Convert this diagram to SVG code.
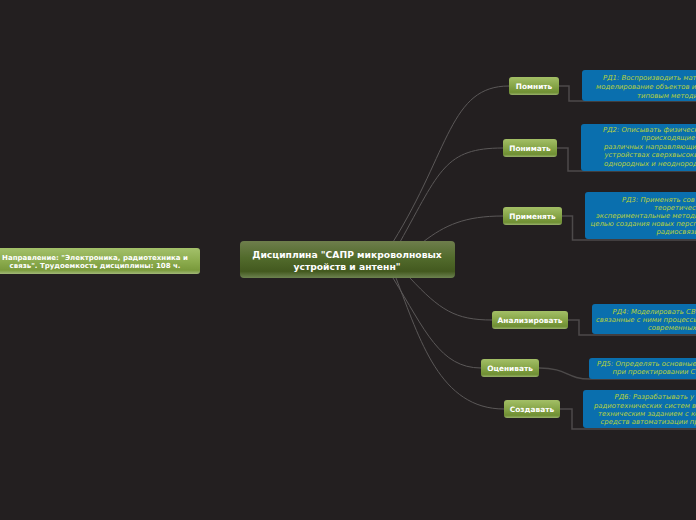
<svg xmlns="http://www.w3.org/2000/svg" width="696" height="520" viewBox="0 0 696 520">
<defs>
<linearGradient id="gCenter" x1="0" y1="0" x2="0" y2="1">
<stop offset="0" stop-color="#6e7e4c"/>
<stop offset="0.45" stop-color="#526b2c"/>
<stop offset="0.82" stop-color="#43591f"/>
<stop offset="1" stop-color="#6d8350"/>
</linearGradient>
<linearGradient id="gNode" x1="0" y1="0" x2="0" y2="1">
<stop offset="0" stop-color="#a3bf66"/>
<stop offset="0.5" stop-color="#86a548"/>
<stop offset="0.85" stop-color="#6f8f33"/>
<stop offset="1" stop-color="#98b06a"/>
</linearGradient>
<linearGradient id="gLeft" x1="0" y1="0" x2="0" y2="1">
<stop offset="0" stop-color="#a3c06a"/>
<stop offset="0.5" stop-color="#8cac4e"/>
<stop offset="0.85" stop-color="#7a9a3c"/>
<stop offset="1" stop-color="#a2b878"/>
</linearGradient>
</defs>
<style>
.bg{fill:#231f20}
.curve{fill:none;stroke:#5b5858;stroke-width:1}
.elbow{fill:none;stroke:#4d4a4a;stroke-width:1.5}
.node{fill:url(#gNode)}
.ntext{font-family:"DejaVu Sans",sans-serif;font-weight:bold;font-size:7.4px;fill:#ffffff;text-anchor:middle}
.box{fill:#0a6fae}
.btext{font-family:"DejaVu Sans",sans-serif;font-style:italic;font-size:6.9px;fill:#b9d23c}
.ctext{font-family:"DejaVu Sans",sans-serif;font-weight:bold;font-size:9.2px;fill:#ffffff;text-anchor:middle}
</style>
<rect class="bg" x="0" y="0" width="696" height="520"/>

<g id="connectors">
<path class="curve" d="M393,242 C450,150 450,86 509,86"/>
<path class="curve" d="M400,242 C440,170 445,148 503,148"/>
<path class="curve" d="M423,242 C445,225 465,216 503,216"/>
<path class="curve" d="M410,278 C440,310 455,320 492,320"/>
<path class="curve" d="M393,278 C425,330 440,368 481,368"/>
<path class="curve" d="M396,278 C420,340 440,409 504,409"/>
<path class="elbow" d="M559,86 H569 V101 H696"/>
<path class="elbow" d="M557,148 H568 V171 H696"/>
<path class="elbow" d="M562,216 H572.5 V240 H696"/>
<path class="elbow" d="M568,320 H579 V335 H696"/>
<path class="elbow" d="M539,368 C568,368 566,379 590,379 H696"/>
<path class="elbow" d="M560,409 H572 V429 H696"/>
</g>

<g id="left">
<rect x="-5" y="248" width="205" height="26" rx="3" fill="url(#gLeft)"/>
<text class="ntext" style="font-size:7px" x="95" y="259.5">Направление: "Электроника, радиотехника и</text>
<text class="ntext" style="font-size:7px" x="95" y="268">связь". Трудоемкость дисциплины: 108 ч.</text>
</g>

<g id="center">
<rect x="240" y="241" width="215" height="37" rx="4" fill="url(#gCenter)"/>
<text class="ctext" x="347" y="257.5">Дисциплина "САПР микроволновых</text>
<text class="ctext" x="347" y="269.5">устройств и антенн"</text>
</g>

<g id="n1">
<rect class="node" x="509" y="77" width="50" height="18" rx="3"/>
<text class="ntext" x="534" y="88.8">Помнить</text>
</g>
<g id="n2">
<rect class="node" x="503" y="139" width="54" height="18" rx="3"/>
<text class="ntext" x="530" y="150.8">Понимать</text>
</g>
<g id="n3">
<rect class="node" x="503" y="207" width="59" height="18" rx="3"/>
<text class="ntext" x="532.5" y="218.8">Применять</text>
</g>
<g id="n4">
<rect class="node" x="492" y="311" width="76" height="18" rx="3"/>
<text class="ntext" x="530" y="322.8">Анализировать</text>
</g>
<g id="n5">
<rect class="node" x="481" y="359" width="58" height="18" rx="3"/>
<text class="ntext" x="510" y="370.8">Оценивать</text>
</g>
<g id="n6">
<rect class="node" x="504" y="400" width="56" height="18" rx="3"/>
<text class="ntext" x="532" y="411.8">Создавать</text>
</g>

<g id="b1">
<rect class="box" x="582" y="70" width="130" height="31" rx="3"/>
<text class="btext" x="603" y="80">РД1: Воспроизводить мат</text>
<text class="btext" x="596" y="89">моделирование объектов и</text>
<text class="btext" x="637" y="97.5">типовым методи</text>
</g>
<g id="b2">
<rect class="box" x="581" y="124" width="130" height="47" rx="3"/>
<text class="btext" x="603" y="132">РД2: Описывать физическ</text>
<text class="btext" x="641.5" y="140">происходящие</text>
<text class="btext" x="604" y="148.5">различных направляющи</text>
<text class="btext" x="604.5" y="157">устройствах сверхвысоки</text>
<text class="btext" x="604" y="165.5">однородных и неоднород</text>
</g>
<g id="b3">
<rect class="box" x="585" y="192" width="130" height="47" rx="3"/>
<text class="btext" x="622" y="201.5">РД3: Применять сов</text>
<text class="btext" x="654" y="209.5">теоретически</text>
<text class="btext" x="596" y="217.5">экспериментальные методы</text>
<text class="btext" x="590.5" y="225.5">целью создания новых персп</text>
<text class="btext" x="656.5" y="234">радиосвязи</text>
</g>
<g id="b4">
<rect class="box" x="592" y="304" width="130" height="30" rx="3"/>
<text class="btext" x="612.5" y="313.5">РД4: Моделировать СВ</text>
<text class="btext" x="596" y="321.5">связанные с ними процессы</text>
<text class="btext" x="648" y="330">современных</text>
</g>
<g id="b5">
<rect class="box" x="589" y="358" width="130" height="21" rx="3"/>
<text class="btext" x="597" y="365.5">РД5: Определять основные</text>
<text class="btext" x="612.5" y="373.5">при проектировании С</text>
</g>
<g id="b6">
<rect class="box" x="583" y="390" width="130" height="38" rx="3"/>
<text class="btext" x="614.5" y="399">РД6: Разрабатывать у</text>
<text class="btext" x="594" y="407.5">радиотехнических систем в</text>
<text class="btext" x="598" y="415.5">техническим заданием с ко</text>
<text class="btext" x="600.5" y="424">средств автоматизации пр</text>
</g>
</svg>
